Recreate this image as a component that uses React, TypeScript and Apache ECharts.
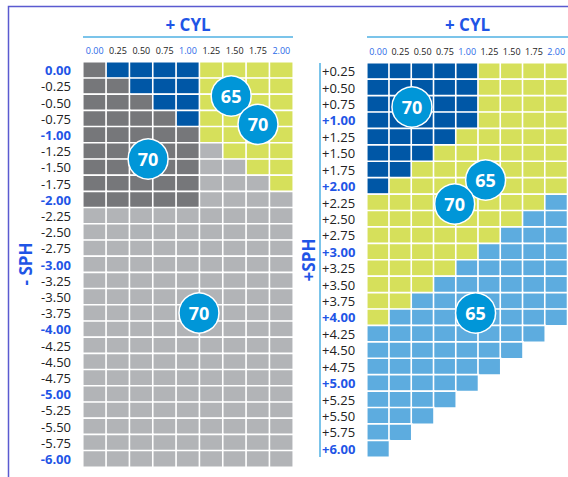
import React, { useEffect, useRef } from "react";
import * as echarts from "echarts";

const cylLabels = ["0.00", "0.25", "0.50", "0.75", "1.00", "1.25", "1.50", "1.75", "2.00"];
const minusSph = [
  "0.00", "-0.25", "-0.50", "-0.75", "-1.00", "-1.25", "-1.50", "-1.75", "-2.00",
  "-2.25", "-2.50", "-2.75", "-3.00", "-3.25", "-3.50", "-3.75", "-4.00",
  "-4.25", "-4.50", "-4.75", "-5.00", "-5.25", "-5.50", "-5.75", "-6.00",
];
const plusSph = [
  "+0.25", "+0.50", "+0.75", "+1.00", "+1.25", "+1.50", "+1.75", "+2.00",
  "+2.25", "+2.50", "+2.75", "+3.00", "+3.25", "+3.50", "+3.75", "+4.00",
  "+4.25", "+4.50", "+4.75", "+5.00", "+5.25", "+5.50", "+5.75", "+6.00",
];
// class codes: G=dark gray, B=dark blue, Y=yellow, L=light gray, S=light blue, .=none
const minusRows = [
  "GBBBBYYYY", "GGBBBYYYY", "GGGBBYYYY", "GGGGBYYYY", "GGGGGYYYY",
  "GGGGGLYYY", "GGGGGLLYY", "GGGGGLLLY", "GGGGGLLLL",
  "LLLLLLLLL", "LLLLLLLLL", "LLLLLLLLL", "LLLLLLLLL", "LLLLLLLLL", "LLLLLLLLL",
  "LLLLLLLLL", "LLLLLLLLL", "LLLLLLLLL", "LLLLLLLLL", "LLLLLLLLL", "LLLLLLLLL",
  "LLLLLLLLL", "LLLLLLLLL", "LLLLLLLLL", "LLLLLLLLL",
];
const plusRows = [
  "BBBBBYYYY", "BBBBBYYYY", "BBBBBYYYY", "BBBBBYYYY", "BBBBYYYYY", "BBBYYYYYY",
  "BBYYYYYYY", "BYYYYYYYY", "YYYYYYYYS", "YYYYYYYSS", "YYYYYYSSS", "YYYYYSSSS",
  "YYYYSSSSS", "YYYSSSSSS", "YYSSSSSSS", "YSSSSSSSS", "SSSSSSSS.", "SSSSSSS..",
  "SSSSSS...", "SSSSS....", "SSSS.....", "SSS......", "SS.......", "S........",
];
// badges: [cylIndex, sphIndex, label] (fractional cell positions)
const minusBadges: [number, number, string][] = [
  [5.85, 1.6, "65"], [7.0, 3.35, "70"], [2.29, 5.49, "70"], [4.47, 14.99, "70"],
];
const plusBadges: [number, number, string][] = [
  [1.52, 2.18, "70"], [4.83, 6.63, "65"], [3.44, 8.09, "70"], [4.38, 14.73, "65"],
];

const codeIndex: Record<string, number> = { G: 0, B: 1, Y: 2, L: 3, S: 4 };
const codeColors = ["#76777a", "#0057a6", "#d6e05b", "#b2b4b7", "#5dacdf"];

function toCells(rows: string[]) {
  const out: number[][] = [];
  rows.forEach((r, yi) => {
    r.split("").forEach((c, xi) => {
      if (c in codeIndex) out.push([xi, yi, codeIndex[c]]);
    });
  });
  return out;
}

const FONT = "'Open Sans', 'Noto Sans', sans-serif";
const TITLE_BLUE = "#1f55e6";
const LABEL_BLUE = "#2a6ae8";
const LINE_BLUE = "#4fb0e3";

function isMajor(v: string) {
  return /\.00$/.test(v);
}

export default function App() {
  const ref = useRef<HTMLDivElement>(null);
  useEffect(() => {
    if (!ref.current) return;
    const chart = echarts.init(ref.current, null, { renderer: "svg" });
    const grids = [
      { left: 83, top: 62, width: 210, height: 405 },
      { left: 367, top: 63, width: 201, height: 394 },
    ];
    const xAxisBase = (gi: number) => ({
      type: "category",
      gridIndex: gi,
      position: "top",
      data: cylLabels,
      axisLine: { show: false },
      axisTick: { show: false },
      splitLine: { show: false },
      axisLabel: {
        interval: 0,
        margin: 6,
        fontFamily: FONT,
        fontSize: 9,
        formatter: (v: string) => (isMajor(v) ? `{m|${v}}` : `{n|${v}}`),
        rich: {
          m: { color: LABEL_BLUE, fontSize: 9, lineHeight: 11, fontFamily: FONT },
          n: { color: "#222", fontSize: 9, lineHeight: 11, fontFamily: FONT },
        },
      },
    });
    const hiddenX = (gi: number) => ({
      type: "value",
      gridIndex: gi,
      min: -0.5,
      max: cylLabels.length - 0.5,
      show: false,
      splitLine: { show: false },
    });
    const hiddenY = (gi: number, n: number) => ({
      type: "value",
      gridIndex: gi,
      inverse: true,
      min: -0.5,
      max: n - 0.5,
      show: false,
      splitLine: { show: false },
    });
    const yLabel = {
      interval: 0,
      fontFamily: FONT,
      fontSize: 13,
      formatter: (v: string) => (isMajor(v) ? `{m|${v}}` : `{n|${v}}`),
      rich: {
        m: { color: TITLE_BLUE, fontWeight: "bold", fontSize: 13, lineHeight: 15, fontFamily: FONT },
        n: { color: "#222", fontSize: 13, lineHeight: 15, fontFamily: FONT },
      },
    };
    const badgeSeries = (axisIdx: number, badges: [number, number, string][]) => ({
      type: "scatter",
      xAxisIndex: axisIdx,
      yAxisIndex: axisIdx,
      symbol: "circle",
      symbolSize: 40,
      z: 10,
      itemStyle: { color: "#0096d8", borderColor: "#ffffff", borderWidth: 1.5, opacity: 1 },
      label: {
        show: true,
        position: "inside",
        formatter: (p: any) => p.value[2],
        color: "#fff",
        fontWeight: "bold",
        fontSize: 18,
        fontFamily: FONT,
      },
      emphasis: { disabled: true },
      data: badges.map((b) => ({ value: [b[0], b[1], b[2]] })),
    });
    const heat = (gi: number, rows: string[]) => ({
      type: "heatmap",
      xAxisIndex: gi,
      yAxisIndex: gi,
      data: toCells(rows),
      itemStyle: { borderColor: "#ffffff", borderWidth: 1.6 },
      emphasis: { disabled: true },
    });
    const titleText = (x: number, text: string) => ({
      type: "text",
      x,
      y: 24,
      style: {
        text,
        fill: TITLE_BLUE,
        font: `bold 17px ${FONT}`,
        textAlign: "center",
        textVerticalAlign: "middle",
      },
    });
    const sideText = (x: number, y: number, text: string) => ({
      type: "text",
      x,
      y,
      rotation: Math.PI / 2,
      style: {
        text,
        fill: TITLE_BLUE,
        font: `bold 17px ${FONT}`,
        textAlign: "center",
        textVerticalAlign: "middle",
      },
    });
    chart.setOption({
      animation: false,
      grid: grids,
      visualMap: {
        type: "piecewise",
        show: false,
        dimension: 2,
        seriesIndex: [0, 1],
        pieces: codeColors.map((c, i) => ({ value: i, color: c })),
      },
      xAxis: [xAxisBase(0), xAxisBase(1), hiddenX(0), hiddenX(1)],
      yAxis: [
        {
          type: "category",
          gridIndex: 0,
          inverse: true,
          data: minusSph,
          axisLine: { show: false },
          axisTick: { show: false },
          splitLine: { show: false },
          axisLabel: { ...yLabel, margin: 12 },
        },
        {
          type: "category",
          gridIndex: 1,
          inverse: true,
          data: plusSph,
          axisLine: { show: false },
          axisTick: { show: false },
          splitLine: { show: false },
          axisLabel: { ...yLabel, margin: 45, align: "left" },
        },
        hiddenY(0, minusSph.length),
        hiddenY(1, plusSph.length),
      ],
      series: [
        heat(0, minusRows),
        heat(1, plusRows),
        badgeSeries(2, minusBadges),
        badgeSeries(3, plusBadges),
      ],
      graphic: [
        {
          type: "polyline",
          shape: { points: [[8.5, 477], [8.5, 6.5], [568, 6.5]] },
          style: { stroke: "#5a5ad0", lineWidth: 1.5, fill: null },
        },
        { type: "line", shape: { x1: 83, y1: 37, x2: 293, y2: 37 }, style: { stroke: LINE_BLUE, lineWidth: 1.5 } },
        { type: "line", shape: { x1: 367, y1: 37, x2: 568, y2: 37 }, style: { stroke: LINE_BLUE, lineWidth: 1.5 } },
        { type: "line", shape: { x1: 320, y1: 63, x2: 320, y2: 457 }, style: { stroke: LINE_BLUE, lineWidth: 1.5 } },
        titleText(188, "+ CYL"),
        titleText(467.5, "+ CYL"),
        sideText(25, 264, "- SPH"),
        sideText(308, 260, "+SPH"),
      ],
    });
    return () => chart.dispose();
  }, []);
  return (
    <div
      ref={ref}
      style={{ position: "fixed", left: 0, top: 0, width: 568, height: 477, background: "#fff" }}
    />
  );
}
